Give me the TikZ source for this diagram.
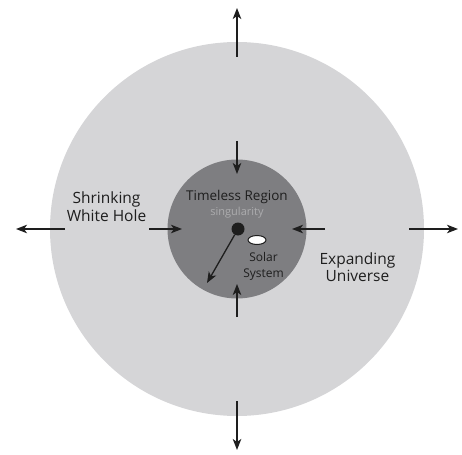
\documentclass[tikz,border=0pt]{standalone}
\usepackage{fontspec}
\setmainfont{Open Sans}
\usetikzlibrary{arrows.meta, positioning, calc, shapes.geometric}
\definecolor{outergray}{RGB}{213,213,215}
\definecolor{innergray}{RGB}{126,126,129}
\definecolor{softgray}{RGB}{172,172,174}
\definecolor{ink}{RGB}{30,30,30}
\tikzset{
	flow/.style={-{Stealth[length=11pt,width=8.5pt,inset=3pt]}, ink, line width=1.3pt}, % the black arrows
	label/.style={align=center, text=ink, font=\fontsize{15.5}{17.5}\selectfont, inner sep=0pt}, % big labels
	small/.style={align=center, text=ink, font=\fontsize{12}{16}\selectfont, inner sep=0pt}, % labels in the core
}

\begin{document}
\begin{tikzpicture}[x=1pt, y=-1pt]
	\useasboundingbox (0,0) rectangle (462,454);
	\node[circle, fill=outergray, minimum size=374pt, inner sep=0pt] (universe) at (237,229) {};
	\node[circle, fill=innergray, minimum size=139pt, inner sep=0pt] (core) at (237,229) {};
	\node[circle, fill=ink, minimum size=13pt, inner sep=0pt] (sing) at (238,229) {};
	\node[ellipse, draw=ink, line width=1pt, fill=white, minimum width=18pt, minimum height=9pt, inner sep=0pt] (solar) at (257,240) {};
	\coordinate (tip) at (207,283);
	\draw[flow] (sing) -- (tip);
	% arrows in and out
	\foreach \a in {0,90,180,270}{
		\coordinate (out1\a) at ($(universe.center)+(\a:172)$);
		\coordinate (out2\a) at ($(universe.center)+(\a:221)$);
		\coordinate (in1\a) at ($(universe.center)+(\a:88)$);
		\coordinate (in2\a) at ($(universe.center)+(\a:55)$);
		\draw[flow] (out1\a) -- (out2\a);
		\draw[flow] (in1\a) -- (in2\a);
	}
	\node[small, font=\fontsize{13.5}{16}\selectfont] (timeless) at (237,197) {Timeless Region};
	\node[small, text=softgray, font=\fontsize{11}{14}\selectfont] (singularity) at (237,212.5) {singularity};
	\node[small] (solartext) at (263.5,266) {Solar\\System};
	\node[label] (shrink) at (106.5,206.5) {Shrinking\\White Hole};
	\node[label] (expand) at (357.5,267) {Expanding\\Universe};
\end{tikzpicture}
\end{document}
